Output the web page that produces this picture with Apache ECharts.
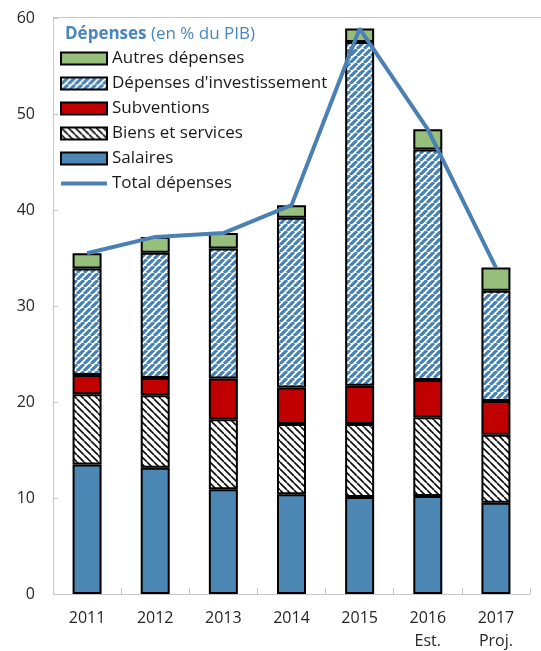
<!DOCTYPE html>
<html>
<head>
<meta charset="utf-8">
<script src="https://cdn.jsdelivr.net/npm/echarts@6/dist/echarts.min.js"></script>
<style>
html,body{margin:0;padding:0;background:#fff;}
#chart{width:541px;height:651px;}
</style>
</head>
<body>
<div id="chart"></div>
<script>
var categories = ['2011', '2012', '2013', '2014', '2015', '2016\nEst.', '2017\nProj.'];
var salaires = [13.5, 13.15, 10.9, 10.4, 10.1, 10.2, 9.5];
var biensServices = [7.3, 7.55, 7.3, 7.3, 7.6, 8.2, 7.1];
var subventions = [2.0, 1.8, 4.25, 3.8, 4.0, 3.9, 3.5];
var investissement = [11.1, 13.05, 13.55, 17.7, 35.8, 24.0, 11.5];
var autres = [1.6, 1.65, 1.6, 1.3, 1.4, 2.1, 2.4];
var total = [35.5, 37.2, 37.6, 40.5, 58.9, 48.4, 34.0];
var yTicks = [0, 10, 20, 30, 40, 50, 60];

function stripe(fg, bg, size, lw, dir) {
  var c = document.createElement('canvas');
  c.width = size; c.height = size;
  var g = c.getContext('2d');
  g.fillStyle = bg; g.fillRect(0, 0, size, size);
  g.strokeStyle = fg; g.lineWidth = lw;
  g.beginPath();
  if (dir === '/') {
    for (var k = -1; k <= 1; k++) {
      g.moveTo(k * size, size); g.lineTo(k * size + size, 0);
    }
  } else {
    for (var k = -1; k <= 1; k++) {
      g.moveTo(k * size, 0); g.lineTo(k * size + size, size);
    }
  }
  g.stroke();
  return {image: c, repeat: 'repeat'};
}

var cBlue = '#4B87B2';
var cInv = stripe('#4682B6', '#ffffff', 7, 3.2, '/');
var cBiens = stripe('#111111', '#ffffff', 7, 1.7, '\\');
var cRed = '#C00000';
var cGreen = '#97BF7C';
var cLine = '#4A80B2';

var chart = echarts.init(document.getElementById('chart'), null, {renderer: 'canvas'});
var font = '"Open Sans", sans-serif';
function barSeries(name, data, color) {
  return {
    name: name, type: 'bar', stack: 'dep', data: data, barWidth: 29,
    itemStyle: {color: color, borderColor: '#000', borderWidth: 2},
    emphasis: {disabled: true}
  };
}
var option = {
  animation: false,
  backgroundColor: '#fff',
  textStyle: {fontFamily: font},
  title: {
    text: '{b|Dépenses} (en % du PIB)',
    left: 60, top: 21,
    textStyle: {
      fontFamily: font, fontSize: 17, fontWeight: 'normal', color: '#4A86BE',
      rich: {b: {fontFamily: font, fontSize: 17, fontWeight: 'bold', color: '#4A86BE'}}
    }
  },
  legend: {
    orient: 'vertical', left: 60, top: 50, padding: 0,
    itemWidth: 46, itemHeight: 12, itemGap: 8, icon: 'rect',
    textStyle: {fontFamily: font, fontSize: 17, color: '#1a1a1a', lineHeight: 15, padding: [0, 0, 0, 0]},
    data: ['Autres dépenses', "Dépenses d'investissement", 'Subventions', 'Biens et services', 'Salaires',
      {name: 'Total dépenses', icon: 'path://M0,5 L46,5 L46,9 L0,9 Z', itemStyle: {color: cLine, borderWidth: 0}}]
  },
  graphic: [{
    type: 'line', shape: {x1: 53, y1: 17.5, x2: 541, y2: 17.5},
    style: {stroke: '#C8C8C8', lineWidth: 1}, silent: true
  }],
  grid: {left: 53, right: 11, top: 18, bottom: 57, containLabel: false, outerBoundsMode: 'none'},
  xAxis: {
    type: 'category', data: categories, boundaryGap: true,
    axisLine: {show: true, lineStyle: {color: '#C8C8C8', width: 1}},
    axisTick: {show: true, inside: true, length: 6, interval: 0, alignWithLabel: false, lineStyle: {color: '#C8C8C8'}},
    axisLabel: {interval: 0, margin: 13, fontSize: 16, lineHeight: 23, color: '#262626', fontFamily: font}
  },
  yAxis: {
    type: 'value', min: yTicks[0], max: yTicks[yTicks.length - 1], interval: 10,
    splitLine: {show: false},
    axisLine: {show: true, lineStyle: {color: '#C8C8C8', width: 1}},
    axisTick: {show: true, inside: true, length: 5, lineStyle: {color: '#C8C8C8'}},
    axisLabel: {margin: 18, fontSize: 16, color: '#262626', fontFamily: font}
  },
  series: [
    barSeries('Salaires', salaires, cBlue),
    barSeries('Biens et services', biensServices, cBiens),
    barSeries('Subventions', subventions, cRed),
    barSeries("Dépenses d'investissement", investissement, cInv),
    barSeries('Autres dépenses', autres, cGreen),
    {
      name: 'Total dépenses', type: 'line', data: total, symbol: 'none', z: 10,
      lineStyle: {color: cLine, width: 4}, itemStyle: {color: cLine},
      emphasis: {disabled: true}
    }
  ]
};
chart.setOption(option);
</script>
</body>
</html>
